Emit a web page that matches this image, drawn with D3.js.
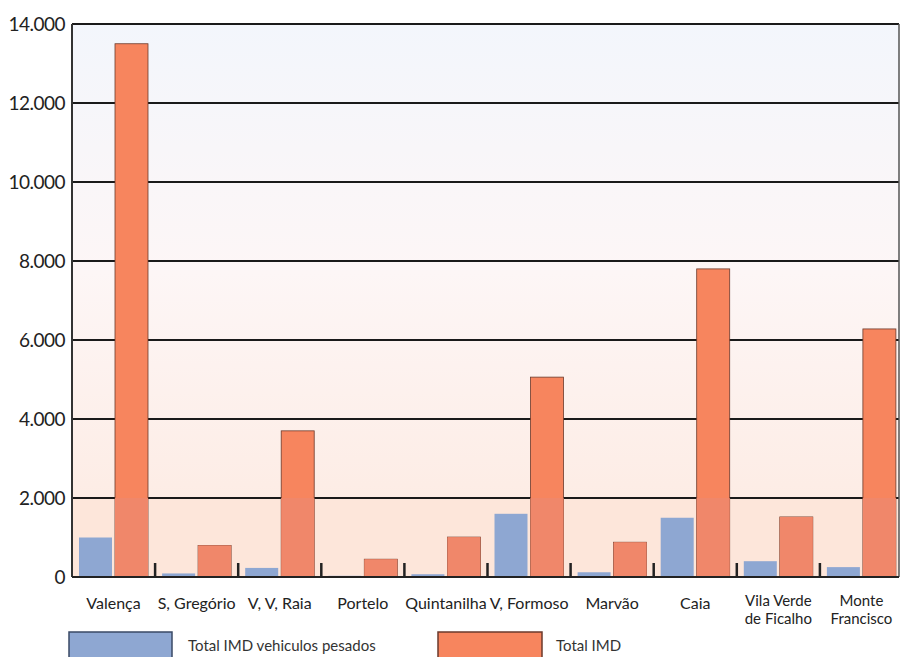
<!DOCTYPE html>
<html><head><meta charset="utf-8">
<script src="https://cdn.jsdelivr.net/npm/d3@7/dist/d3.min.js"></script>
<style>body{margin:0;background:#fff}svg{display:block}</style>
</head><body>
<svg id="c" width="903" height="657"></svg>
<script>
const categories = [["Valença"],["S, Gregório"],["V, V, Raia"],["Portelo"],["Quintanilha"],["V, Formoso"],["Marvão"],["Caia"],["Vila Verde","de Ficalho"],["Monte","Francisco"]];
const heavyValues = [1000, 90, 230, 30, 70, 1600, 120, 1500, 400, 250];
const totalValues = [13500, 800, 3700, 450, 1010, 5060, 880, 7800, 1520, 6280];
const yTicks = [0, 2000, 4000, 6000, 8000, 10000, 12000, 14000];
const seriesNames = ["Total IMD vehiculos pesados", "Total IMD"];

(function(){
const svg = d3.select("#c");
const font = "'Lato', 'Noto Sans', sans-serif";
const pL = 72, pR = 903, pT = 24, pB = 577, frameR = 899;
const x = d3.scaleBand().domain(d3.range(categories.length)).range([pL, pR]).padding(0);
const y = d3.scaleLinear().domain([0, 14000]).range([pB, pT]);
const fmt = v => d3.format(",")(v).replace(/,/g, ".");

const defs = svg.append("defs");
const g = defs.append("linearGradient").attr("id","bg").attr("x1",0).attr("y1",0).attr("x2",0).attr("y2",1);
g.append("stop").attr("offset","0%").attr("stop-color","#f3f6fc");
g.append("stop").attr("offset","45%").attr("stop-color","#fdf6f6");
g.append("stop").attr("offset","100%").attr("stop-color","#fde9df");
svg.append("rect").attr("x",pL).attr("y",pT).attr("width",frameR-pL).attr("height",pB-pT).attr("fill","url(#bg)");
svg.append("rect").attr("x",pL).attr("y",y(2000)).attr("width",frameR-pL).attr("height",pB-y(2000)).attr("fill","#fde6da");

svg.append("g").selectAll("line").data(yTicks.filter(d=>d>0)).join("line")
  .attr("x1",pL).attr("x2",frameR).attr("y1",d=>y(d)).attr("y2",d=>y(d))
  .attr("stroke","#1a1a1a").attr("stroke-width",2);
svg.append("line").attr("x1",pL).attr("x2",pL).attr("y1",pT).attr("y2",pB).attr("stroke","#333").attr("stroke-width",2);
svg.append("line").attr("x1",frameR).attr("x2",frameR).attr("y1",pT).attr("y2",pB).attr("stroke","#555").attr("stroke-width",1.5);

const bw = 33;
svg.append("g").selectAll("rect").data(heavyValues).join("rect")
  .attr("x",(d,i)=>x(i)+7).attr("width",bw)
  .attr("y",d=>y(d)).attr("height",d=>pB-y(d))
  .attr("fill","#8ea7d2");
svg.append("g").selectAll("rect").data(totalValues).join("rect")
  .attr("x",(d,i)=>x(i)+43).attr("width",bw)
  .attr("y",d=>y(d)).attr("height",d=>pB-y(d))
  .attr("fill","#f7855e").attr("stroke","#6b3a2c").attr("stroke-width",0.8);
svg.append("g").selectAll("rect").data(totalValues).join("rect")
  .attr("x",(d,i)=>x(i)+43).attr("width",bw)
  .attr("y",d=>y(Math.min(d,2000))).attr("height",d=>pB-y(Math.min(d,2000)))
  .attr("fill","#f0876a");

svg.append("line").attr("x1",pL).attr("x2",frameR).attr("y1",pB).attr("y2",pB).attr("stroke","#222").attr("stroke-width",2);
svg.append("g").selectAll("line").data(d3.range(1,categories.length)).join("line")
  .attr("x1",i=>x(i)).attr("x2",i=>x(i)).attr("y1",pB).attr("y2",pB-14)
  .attr("stroke","#222").attr("stroke-width",2.5);

svg.append("g").selectAll("text").data(yTicks).join("text")
  .attr("x",65).attr("y",d=>y(d)+7).attr("text-anchor","end")
  .attr("font-family",font).attr("font-size",19).attr("fill","#222").attr("letter-spacing","-0.5")
  .text(d=>fmt(d));

const xg = svg.append("g");
categories.forEach((lines,i)=>{
  lines.forEach((ln,j)=>{
    xg.append("text").attr("x",x(i)+x.bandwidth()/2).attr("y",(lines.length>1?606:609)+j*18)
      .attr("text-anchor","middle").attr("font-family",font)
      .attr("font-size",lines.length>1?15:16).attr("fill","#222").text(ln);
  });
});

svg.append("rect").attr("x",69).attr("y",632).attr("width",103).attr("height",30).attr("fill","#8ea7d2").attr("stroke","#3a4a66").attr("stroke-width",1.5);
svg.append("rect").attr("x",438).attr("y",632).attr("width",104).attr("height",30).attr("fill","#f7855e").attr("stroke","#6b3a2c").attr("stroke-width",1.5);
svg.append("text").attr("x",188).attr("y",651).attr("font-family",font).attr("font-size",15).attr("fill","#333").text(seriesNames[0]);
svg.append("text").attr("x",556).attr("y",651).attr("font-family",font).attr("font-size",15).attr("fill","#333").text(seriesNames[1]);
})();
</script>
</body></html>
